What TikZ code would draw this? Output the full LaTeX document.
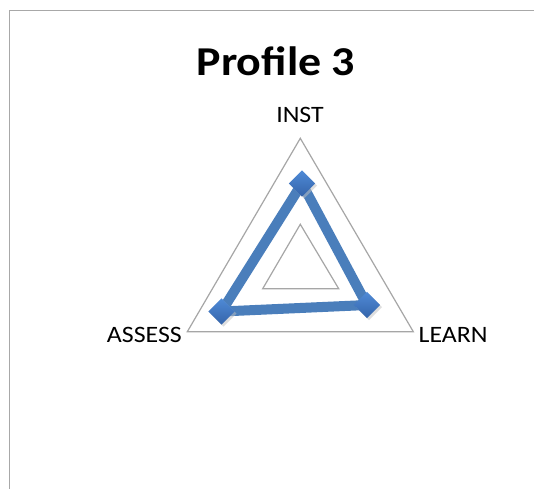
\documentclass[tikz,border=0pt]{standalone}
\usepackage{fontspec}
\setmainfont{Carlito}
\usetikzlibrary{calc}
\definecolor{gridgray}{HTML}{A6A6A6}
\definecolor{frame}{HTML}{A8A8A8}
\definecolor{serline}{HTML}{4A7EBB}
\definecolor{marktop}{HTML}{4F8AD6}
\definecolor{markbot}{HTML}{3464AA}
\tikzset{
  grid/.style={draw=gridgray, line width=1.2pt, line join=miter},
  series/.style={draw=serline, line width=10pt, line join=round},
  marker/.style={shape=rectangle, minimum size=18.5pt, inner sep=0pt, rotate=45,
    top color=marktop, bottom color=markbot, draw=none},
  axislabel/.style={font=\fontsize{23.5}{26}\selectfont, inner sep=0pt},
  title/.style={font=\fontsize{41}{46}\selectfont\bfseries, inner sep=0pt}
}
\begin{document}
\begin{tikzpicture}[x=1pt,y=-1pt]
\useasboundingbox (0,0) rectangle (534,488);
\fill[white] (0,0) rectangle (534,488);
% chart frame
\draw[frame, line width=1.5pt] (9.5,490) -- (9.5,10.5) -- (536,10.5);
% title
\node[title, anchor=base] (title) at (276,75) {\scalebox{1.12}[1]{Profile 3}};
% grid
\coordinate (oA) at (300.3,138.3);
\coordinate (oL) at (413.3,331.7);
\coordinate (oS) at (187.3,331.7);
\coordinate (iA) at (300.3,224.3);
\coordinate (iL) at (338.7,288.7);
\coordinate (iS) at (262.7,288.7);
\draw[grid] (oA) -- (oL) -- (oS) -- cycle;
\draw[grid] (iA) -- (iL) -- (iS) -- cycle;
% labels
\node[axislabel, anchor=base] (inst) at (300,122) {\scalebox{1.1}[1]{INST}};
\node[axislabel, anchor=base east] (assess) at (182,342) {\scalebox{1.1}[1]{ASSESS}};
\node[axislabel, anchor=base west] (learn) at (418.5,342) {\scalebox{1.1}[1]{LEARN}};
% series
\coordinate (pI) at (302,183.5);
\coordinate (pL) at (367,305);
\coordinate (pS) at (221.5,311.5);
\draw[series] (pI) -- (pL) -- (pS) -- cycle;
\foreach \p in {pI,pL,pS}{
  \fill[black!25, opacity=0.5] ($(\p)+(2,2)$) +(0,-13) -- +(13,0) -- +(0,13) -- +(-13,0) -- cycle;
  \node[marker] (m\p) at (\p) {};
}
\end{tikzpicture}
\end{document}
